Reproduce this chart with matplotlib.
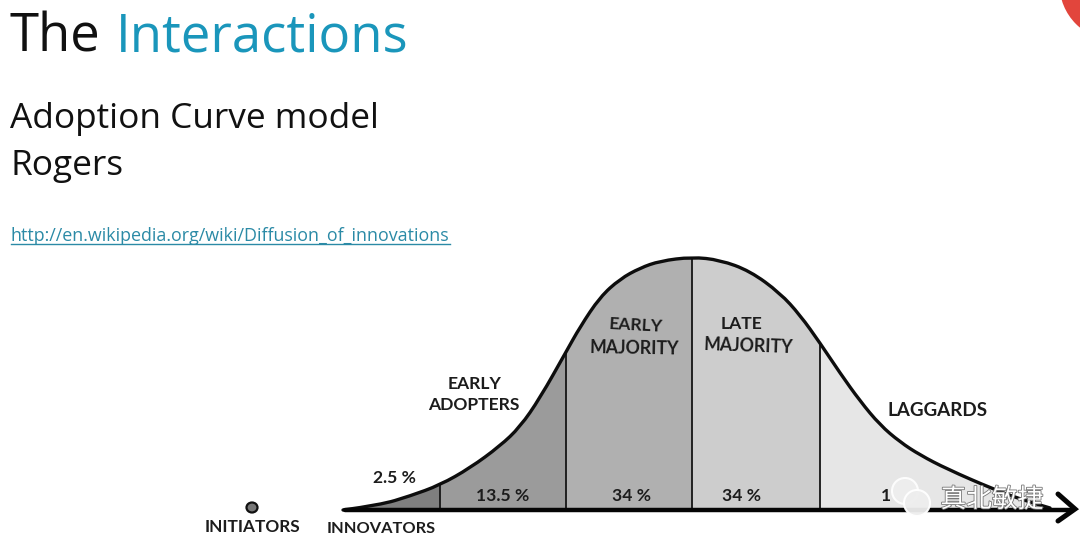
import numpy as np
import matplotlib
matplotlib.use("Agg")
import matplotlib.pyplot as plt
from matplotlib.patches import Circle, Ellipse, PathPatch
from matplotlib.path import Path
import matplotlib.patheffects as pe

# Adoption curve (image pixel coordinates)
curve_x = [343, 380, 410, 440, 470, 500, 520, 540, 566, 580, 600, 620, 640, 660, 692, 720,
           750, 780, 800, 820, 840, 860, 880, 900, 920, 947, 993, 1020, 1050]
curve_y = [510, 505, 496, 485, 468, 446, 427, 398, 352, 327, 297, 279, 268, 261, 257, 260,
           271, 293, 315, 343, 373, 401, 425, 442, 455, 469, 489, 499, 508]
segment_edges = [343, 440, 566, 692, 820, 1050]
segment_colors = ["#7f7f7f", "#9b9b9b", "#b0b0b0", "#cdcdcd", "#e6e6e6"]
divider_x = [440, 566, 692, 820]
baseline_y = 510
share_labels = ["13.5 %", "34 %", "34 %"]
share_x = [503, 632, 742]
share_y = [496, 496, 496]

FS = "Lato"
fig = plt.figure(figsize=(10.8, 5.48), dpi=100, facecolor="white")
ax = fig.add_axes([0, 0, 1, 1])
ax.set_xlim(0, 1080)
ax.set_ylim(548, 0)
ax.axis("off")

cx = np.array(curve_x, float)
cy = np.array(curve_y, float)
# smooth outline: the read points act as quadratic control points
pts = np.column_stack([cx, cy])
mids = (pts[:-1] + pts[1:]) / 2
verts = [pts[0]]
codes = [Path.MOVETO]
for p, m in zip(pts[1:-1], mids[1:]):
    verts += [p, m]
    codes += [Path.CURVE3, Path.CURVE3]
verts.append(pts[-1])
codes.append(Path.LINETO)
outline = Path(verts, codes)
area = PathPatch(Path(verts + [(1050, baseline_y), (343, baseline_y), pts[0]],
                      codes + [Path.LINETO, Path.LINETO, Path.CLOSEPOLY]),
                 fc="none", ec="none", zorder=0)
ax.add_patch(area)
for i, col in enumerate(segment_colors):
    c = ax.fill_between([segment_edges[i], segment_edges[i + 1]], 200, baseline_y, color=col, lw=0, zorder=1)
    c.set_clip_path(area)
    ln = ax.plot([divider_x[i]] * 2, [200, baseline_y], color="#151515", lw=1.3, zorder=2)[0] if i < 4 else None
    if ln is not None:
        ln.set_clip_path(area)
ax.add_patch(PathPatch(outline, fc="none", ec="#0d0d0d", lw=2.4, zorder=3, capstyle="round", joinstyle="round"))
ax.plot([345, 1073], [baseline_y, baseline_y], color="#050505", lw=3.2, zorder=3, solid_capstyle="round")
ax.plot([1058, 1075, 1058], [494, 509, 521], color="#050505", lw=3.6, zorder=3,
        solid_capstyle="round", solid_joinstyle="miter")

# Headings
ax.text(9, 52, "The", fontsize=38, family="Open Sans", color="#111111", va="baseline")
ax.text(116, 52, "Interactions", fontsize=38, family="Open Sans", color="#1a96bb", va="baseline")
ax.text(10, 128, "Adoption Curve model", fontsize=25.4, family="Open Sans", color="#111111", va="baseline")
ax.text(10, 175, "Rogers", fontsize=25.4, family="Open Sans", color="#111111", va="baseline")
ax.text(11, 241, "http://en.wikipedia.org/wiki/Diffusion_of_innovations", fontsize=12.85,
        family="Open Sans", color="#2b8aa6", va="baseline")
ax.plot([11, 450], [244, 244], color="#2b8aa6", lw=1)

# Hand-lettered labels
def lab(x, y, s, size=12.4, rot=0):
    ax.text(x, y, s, family=FS, fontweight="bold", color="#1c1c1c", ha="center", va="center",
            fontsize=size, rotation=rot, zorder=4)

lab(475, 384, "EARLY", 12.6)
lab(474, 405, "ADOPTERS", 12.6)
lab(636, 325, "EARLY", 12.6, -3)
lab(634, 348, "MAJORITY", 12.8, -1)
lab(742, 324, "LATE", 12.6)
lab(749, 346, "MAJORITY", 12.8, -2)
lab(938, 410, "LAGGARDS", 13.6)
lab(394, 478, "2.5 %", 12.6)
for s, x, y in zip(share_labels, share_x, share_y):
    lab(x, y, s, 12.6)
lab(253, 527, "INITIATORS", 12.4)
lab(381, 529, "INNOVATORS", 11.8)
ax.add_patch(Ellipse((252, 507.5), 11, 10, fc="#777777", ec="#111111", lw=1.6, zorder=3))
lab(886, 496, "1", 12.6)

# Red corner mark
ax.add_patch(Circle((1116, -16), 56.6, fc="#e2453c", ec="none", zorder=2))

# Watermark
ax.add_patch(Ellipse((905, 491), 26, 26, fc="#eeeeee", ec="#ffffff", lw=1.5, alpha=.9, zorder=5))
ax.add_patch(Ellipse((917, 503), 26, 26, fc="#eeeeee", ec="#ffffff", lw=1.5, alpha=.95, zorder=5))
ax.text(992, 500, "真北敏捷", family=["Noto Sans CJK SC", "DejaVu Sans"], fontsize=18.5, color="white",
        ha="center", va="center", zorder=6,
        path_effects=[pe.withStroke(linewidth=1.2, foreground="#777777")])

fig.savefig("out.png", dpi=100)
